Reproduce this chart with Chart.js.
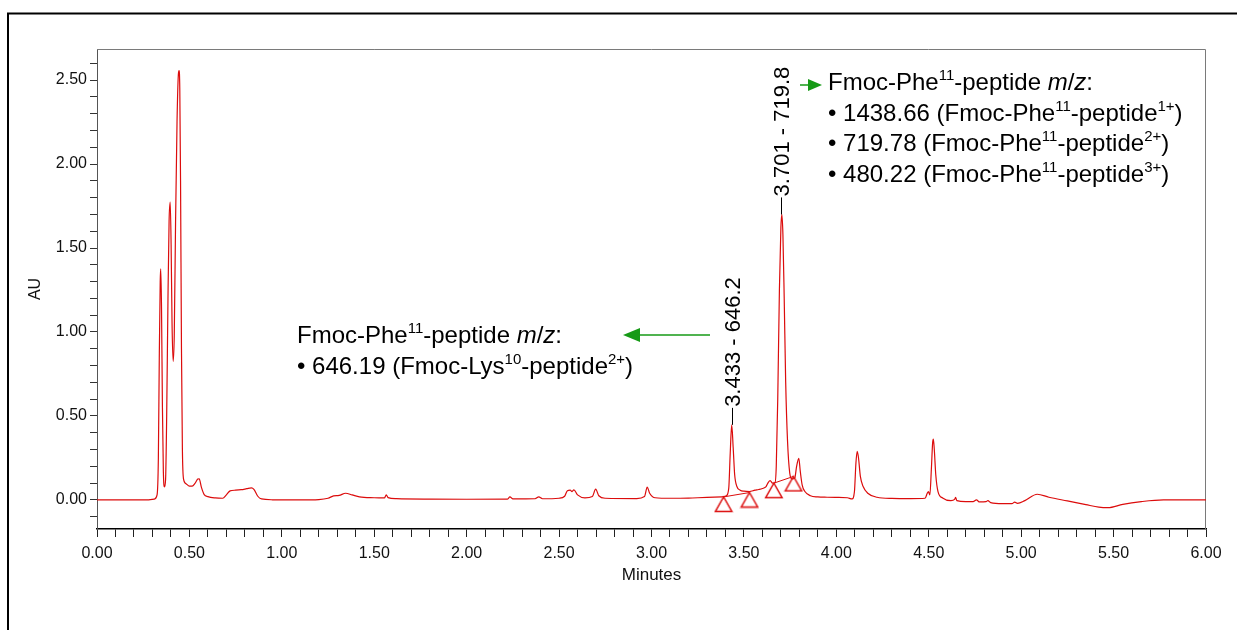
<!DOCTYPE html>
<html>
<head>
<meta charset="utf-8">
<script src="https://cdn.jsdelivr.net/npm/chart.js@4.4.1/dist/chart.umd.min.js"></script>
<style>
  body { margin: 0; background: #fff; }
  #wrap { width: 1237px; height: 630px; position: relative; }
</style>
</head>
<body>
<div id="wrap"><canvas id="myChart"></canvas></div>
<script>
'use strict';

// chromatogram trace
const timeMin = [
  0.00, 0.20, 0.28, 0.31, 0.325, 0.332, 0.337, 0.342, 0.345, 0.349, 0.354, 0.359, 0.365, 0.371, 0.377,
  0.384, 0.390, 0.396, 0.401, 0.406, 0.412, 0.418, 0.425, 0.433, 0.440, 0.444, 0.448, 0.452, 0.457,
  0.462, 0.468, 0.48, 0.50, 0.515, 0.53, 0.545, 0.553, 0.565, 0.58, 0.60, 0.64, 0.68, 0.70, 0.72,
  0.75, 0.78, 0.81, 0.835, 0.85, 0.87, 0.89, 0.95, 1.10, 1.20, 1.25, 1.28, 1.31, 1.345, 1.38, 1.42,
  1.50, 1.555, 1.565, 1.575, 1.62, 1.80, 2.00, 2.22, 2.234, 2.25, 2.37, 2.39, 2.41, 2.50, 2.53, 2.545,
  2.56, 2.57, 2.58, 2.60, 2.64, 2.68, 2.698, 2.715, 2.75, 2.92, 2.962, 2.977, 2.99, 3.02, 3.10, 3.20,
  3.30, 3.38, 3.405, 3.418, 3.426, 3.434, 3.442, 3.45, 3.462, 3.48, 3.50, 3.53, 3.56, 3.58, 3.60, 3.62,
  3.632, 3.642, 3.655, 3.668, 3.675, 3.683, 3.692, 3.700, 3.705, 3.711, 3.718, 3.726, 3.736, 3.748,
  3.760, 3.775, 3.785, 3.797, 3.805, 3.815, 3.83, 3.86, 3.90, 3.95, 4.00, 4.06, 4.085, 4.098, 4.106,
  4.113, 4.12, 4.13, 4.145, 4.17, 4.22, 4.30, 4.40, 4.48, 4.492, 4.498, 4.506, 4.514, 4.521, 4.525,
  4.53, 4.538, 4.55, 4.575, 4.62, 4.64, 4.645, 4.652, 4.70, 4.74, 4.758, 4.775, 4.81, 4.82, 4.835,
  4.90, 4.95, 4.965, 4.98, 5.02, 5.087, 5.15, 5.25, 5.35, 5.42, 5.47, 5.55, 5.65, 5.77, 6.00
];
const absorbanceAU = [
  0.000, 0.000, 0.001, 0.005, 0.03, 0.25, 0.85, 1.30, 1.376, 1.15, 0.55, 0.17, 0.077, 0.12, 0.5,
  1.2, 1.66, 1.774, 1.52, 1.05, 0.825, 0.98, 1.65, 2.25, 2.53, 2.556, 2.44, 1.9, 0.9,
  0.3, 0.125, 0.098, 0.082, 0.082, 0.098, 0.124, 0.126, 0.075, 0.032, 0.02, 0.012, 0.01, 0.03, 0.054,
  0.058, 0.061, 0.067, 0.072, 0.062, 0.022, 0.006, 0.001, 0.000, 0.002, 0.01, 0.024, 0.027, 0.04, 0.03, 0.018,
  0.013, 0.012, 0.03, 0.014, 0.008, 0.005, 0.004, 0.005, 0.018, 0.006, 0.007, 0.018, 0.007, 0.01, 0.022, 0.055,
  0.058, 0.05, 0.06, 0.03, 0.012, 0.02, 0.064, 0.025, 0.01, 0.008, 0.02, 0.076, 0.04, 0.013, 0.01, 0.011,
  0.015, 0.018, 0.025, 0.07, 0.28, 0.447, 0.31, 0.15, 0.08, 0.058, 0.052, 0.05, 0.058, 0.062, 0.068, 0.08,
  0.105, 0.115, 0.1, 0.102, 0.2, 0.6, 1.25, 1.62, 1.70, 1.58, 1.2, 0.7, 0.35, 0.16,
  0.125, 0.13, 0.2, 0.248, 0.17, 0.09, 0.05, 0.025, 0.018, 0.016, 0.015, 0.013, 0.006, 0.05, 0.22,
  0.29, 0.25, 0.14, 0.08, 0.04, 0.016, 0.009, 0.008, 0.01, 0.04, 0.05, 0.03, 0.18, 0.34, 0.362,
  0.3, 0.15, 0.05, 0.012, -0.004, 0.003, 0.016, -0.004, -0.01, -0.01, 0.0, -0.012, -0.01, -0.004, -0.016,
  -0.022, -0.022, -0.013, -0.02, -0.004, 0.034, 0.016, -0.006, -0.028, -0.043, -0.046, -0.026, -0.01, 0.000, 0.000
];

// integration events (triangles) and the baselines drawn between them
const eventTimes = [3.39, 3.53, 3.662, 3.768];
const eventLevels = [0.018, 0.044, 0.10, 0.14];
const baselinePairs = [[0, 1], [2, 3]];

// labelled peaks
const peakTimes = [3.433, 3.701];
const peakLabels = ['3.433 - 646.2', '3.701 - 719.8'];

// axis settings
const xMin = 0, xMax = 6, yMin = -0.173, yMax = 2.685;
const tickStep = 0.1;

const RED = 'rgb(220, 12, 12)';
const GREEN = '#169a16';
const FONT = '"Liberation Sans", Arial, sans-serif';

const titleLine = [
  { t: 'Fmoc-Phe' }, { t: '11', sup: true }, { t: '-peptide ' },
  { t: 'm', it: true }, { t: '/' }, { t: 'z', it: true }, { t: ':' }
];
const notes = [
  {
    x: 828, y: 90, gap: 30.5,
    arrow: { from: 800, to: 822, y: 85, len: 14, half: 6 },
    lines: [
      titleLine,
      [{ t: '\u2022 1438.66 (Fmoc-Phe' }, { t: '11', sup: true }, { t: '-peptide' }, { t: '1+', sup: true }, { t: ')' }],
      [{ t: '\u2022 719.78 (Fmoc-Phe' }, { t: '11', sup: true }, { t: '-peptide' }, { t: '2+', sup: true }, { t: ')' }],
      [{ t: '\u2022 480.22 (Fmoc-Phe' }, { t: '11', sup: true }, { t: '-peptide' }, { t: '3+', sup: true }, { t: ')' }]
    ]
  },
  {
    x: 297, y: 343, gap: 31,
    arrow: { from: 710, to: 623, y: 335, len: 17, half: 7 },
    lines: [
      titleLine,
      [{ t: '\u2022 646.19 (Fmoc-Lys' }, { t: '10', sup: true }, { t: '-peptide' }, { t: '2+', sup: true }, { t: ')' }]
    ]
  }
];

function traceData() {
  return timeMin.map((t, i) => ({ x: t, y: absorbanceAU[i] }));
}

function eventData() {
  let pts = [];
  baselinePairs.forEach((p, k) => {
    if (k > 0) pts.push({ x: eventTimes[p[0]], y: null });
    pts.push({ x: eventTimes[p[0]], y: eventLevels[p[0]] });
    pts.push({ x: eventTimes[p[1]], y: eventLevels[p[1]] });
  });
  return pts;
}

function makeTriangle() {
  const c = document.createElement('canvas');
  c.width = 20;
  c.height = 32;
  const g = c.getContext('2d');
  g.strokeStyle = RED;
  g.lineWidth = 1.5;
  g.beginPath();
  g.moveTo(10, 16);
  g.lineTo(18.2, 30.5);
  g.lineTo(1.8, 30.5);
  g.closePath();
  g.stroke();
  return c;
}

function apexOf(t) {
  let best = -Infinity;
  timeMin.forEach((x, i) => {
    if (Math.abs(x - t) < 0.015 && absorbanceAU[i] > best) best = absorbanceAU[i];
  });
  return best;
}

function drawRich(ctx, x, y, parts, size) {
  parts.forEach(p => {
    const fs = p.sup ? Math.round(size * 0.62) : size;
    ctx.font = (p.it ? 'italic ' : '') + fs + 'px ' + FONT;
    ctx.fillText(p.t, x, p.sup ? y - size * 0.4 : y);
    x += ctx.measureText(p.t).width;
  });
}

function drawArrow(ctx, a) {
  const dir = a.to > a.from ? 1 : -1;
  ctx.strokeStyle = GREEN;
  ctx.fillStyle = GREEN;
  ctx.lineWidth = 1.5;
  ctx.beginPath();
  ctx.moveTo(a.from, a.y);
  ctx.lineTo(a.to - dir * a.len, a.y);
  ctx.stroke();
  ctx.beginPath();
  ctx.moveTo(a.to, a.y);
  ctx.lineTo(a.to - dir * a.len, a.y - a.half);
  ctx.lineTo(a.to - dir * a.len, a.y + a.half);
  ctx.closePath();
  ctx.fill();
}

const overlay = {
  id: 'overlay',
  beforeDraw(chart) {
    const ctx = chart.ctx;
    ctx.save();
    ctx.fillStyle = '#fff';
    ctx.fillRect(0, 0, chart.width, chart.height);
    ctx.strokeStyle = '#000';
    ctx.lineWidth = 2;
    ctx.beginPath();
    ctx.moveTo(8, chart.height);
    ctx.lineTo(8, 13.5);
    ctx.lineTo(chart.width, 13.5);
    ctx.stroke();
    ctx.restore();
  },
  beforeDatasetsDraw(chart) {
    const ctx = chart.ctx;
    const a = chart.chartArea;
    ctx.save();
    ctx.strokeStyle = '#7a7a7a';
    ctx.lineWidth = 1;
    ctx.beginPath();
    ctx.moveTo(a.left, a.top + 0.5);
    ctx.lineTo(a.right - 0.5, a.top + 0.5);
    ctx.lineTo(a.right - 0.5, a.bottom);
    ctx.stroke();
    ctx.restore();
  },
  afterDatasetsDraw(chart) {
    const ctx = chart.ctx;
    const xs = chart.scales.x;
    const ys = chart.scales.y;
    ctx.save();
    peakTimes.forEach((t, i) => {
      const px = Math.round(xs.getPixelForValue(t)) + 0.5;
      const py = ys.getPixelForValue(apexOf(t));
      ctx.strokeStyle = '#000';
      ctx.lineWidth = 1;
      ctx.beginPath();
      ctx.moveTo(px, py);
      ctx.lineTo(px, py - 17);
      ctx.stroke();
      ctx.save();
      ctx.translate(px, py - 18);
      ctx.rotate(-Math.PI / 2);
      ctx.fillStyle = '#000';
      ctx.font = '22px ' + FONT;
      ctx.textAlign = 'left';
      ctx.textBaseline = 'middle';
      ctx.fillText(peakLabels[i], 0, 1);
      ctx.restore();
    });
    notes.forEach(n => {
      ctx.fillStyle = '#000';
      ctx.textAlign = 'left';
      ctx.textBaseline = 'alphabetic';
      n.lines.forEach((line, k) => {
        drawRich(ctx, n.x, n.y + k * n.gap, line, 24);
      });
      drawArrow(ctx, n.arrow);
    });
    ctx.restore();
  }
};

function tickLabel(v) {
  const k = Math.round(v * 10);
  if (k % 5 !== 0) return '';
  return (k / 10).toFixed(2);
}

const ctx = document.getElementById('myChart').getContext('2d');
const myChart = new Chart(ctx, {
  type: 'scatter',
  data: {
    datasets: [
      {
        label: 'trace',
        data: traceData(),
        showLine: true,
        borderColor: RED,
        borderWidth: 1.2,
        pointRadius: 0,
        cubicInterpolationMode: 'monotone',
      },
      {
        label: 'events',
        data: eventData(),
        showLine: true,
        spanGaps: false,
        borderColor: RED,
        borderWidth: 1,
        pointStyle: makeTriangle(),
        pointRadius: 6,
      },
    ],
  },
  options: {
    responsive: true,
    maintainAspectRatio: false,
    animation: false,
    events: [],
    layout: { padding: { left: 0, right: 31, top: 49, bottom: 0 } },
    plugins: { legend: { display: false }, tooltip: { enabled: false } },
    scales: {
      x: {
        type: 'linear',
        min: xMin,
        max: xMax,
        afterFit: s => { s.height = 101; },
        ticks: {
          stepSize: tickStep,
          autoSkip: false,
          maxRotation: 0,
          includeBounds: false,
          padding: 7,
          color: '#111',
          font: { family: FONT, size: 16 },
          callback: tickLabel,
        },
        grid: { drawOnChartArea: false, drawTicks: true, tickLength: 8, tickColor: '#222' },
        border: { color: '#000', width: 1.5 },
        title: {
          display: true,
          text: 'Minutes',
          color: '#111',
          font: { family: FONT, size: 17 },
          padding: { top: 0, bottom: 44 },
        },
      },
      y: {
        type: 'linear',
        min: yMin,
        max: yMax,
        afterFit: s => { s.width = 97; },
        ticks: {
          stepSize: tickStep,
          autoSkip: false,
          includeBounds: false,
          padding: 3,
          color: '#111',
          font: { family: FONT, size: 16 },
          callback: tickLabel,
        },
        grid: { drawOnChartArea: false, drawTicks: true, tickLength: 7, tickColor: '#333' },
        border: { color: '#555', width: 1 },
        title: {
          display: true,
          text: 'AU',
          color: '#111',
          font: { family: FONT, size: 16 },
          padding: { top: 26, bottom: 0 },
        },
      },
    },
  },
  plugins: [overlay],
});
</script>
</body>
</html>
